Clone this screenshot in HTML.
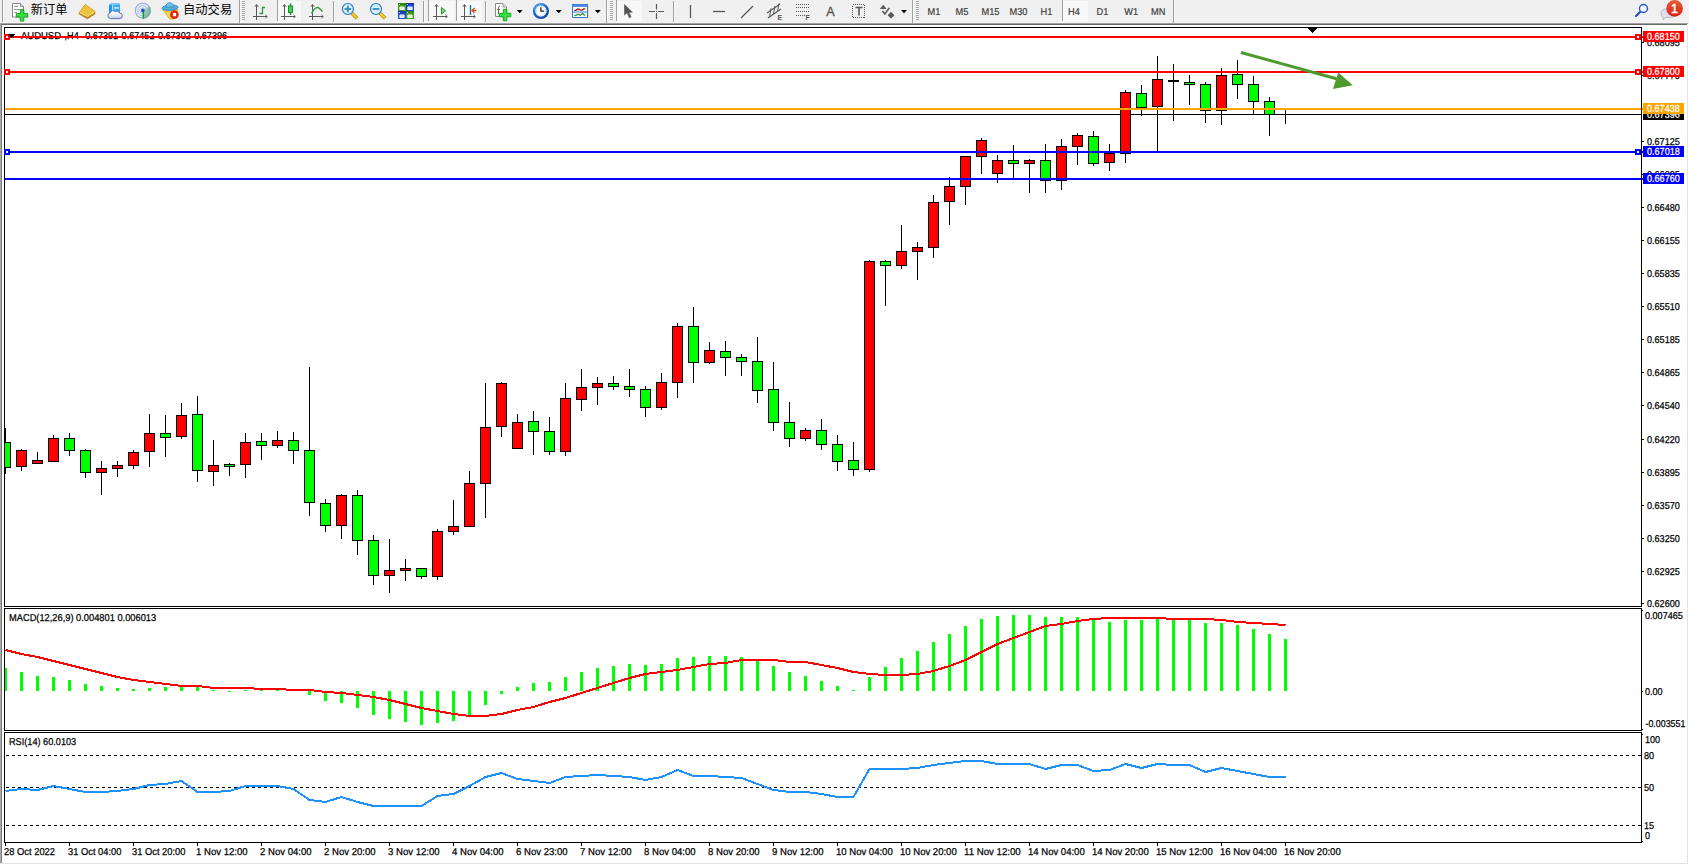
<!DOCTYPE html>
<html><head><meta charset="utf-8"><title>AUDUSD H4</title>
<style>
html,body{margin:0;padding:0;background:#fff}
body{width:1689px;height:865px;overflow:hidden;position:relative}
svg{position:absolute;left:0;top:0;display:block}
svg text{font-family:"Liberation Sans","Noto Sans CJK SC",sans-serif;white-space:pre}
</style></head><body>
<svg width="1689" height="865" viewBox="0 0 1689 865">
<rect x="0" y="0" width="1689" height="23" fill="#f0f0f0"/>
<rect x="0" y="22" width="1689" height="1" fill="#f5f5f5"/>
<rect x="0" y="23" width="1688" height="1" fill="#a0a0a0"/>
<rect x="0" y="24" width="1687" height="1" fill="#696969"/>
<rect x="0" y="23" width="1" height="840" fill="#ababab"/>
<rect x="1" y="24" width="1" height="839" fill="#787878"/>
<rect x="1687" y="25" width="1" height="839" fill="#e3e3e3"/>
<rect x="0" y="863" width="1688" height="1" fill="#e3e3e3"/>
<rect x="0" y="864" width="1689" height="1" fill="#ffffff"/>
<rect x="4" y="27" width="1638" height="1" fill="#000"/>
<rect x="4" y="27" width="1" height="580" fill="#000"/>
<rect x="4" y="606" width="1638" height="1" fill="#000"/>
<rect x="1641" y="27" width="1" height="580" fill="#000"/>
<rect x="4" y="608" width="1638" height="1" fill="#000"/>
<rect x="4" y="608" width="1" height="123" fill="#000"/>
<rect x="4" y="730" width="1638" height="1" fill="#000"/>
<rect x="1641" y="608" width="1" height="123" fill="#000"/>
<rect x="4" y="732" width="1638" height="1" fill="#000"/>
<rect x="4" y="732" width="1" height="111" fill="#000"/>
<rect x="4" y="842" width="1638" height="1" fill="#000"/>
<rect x="1641" y="732" width="1" height="111" fill="#000"/>
<path d="M1308 28h9v1h-1v1h-1v1h-1v1h-1v1h-1v-1h-1v-1h-1v-1h-1v-1h-1z" fill="#000"/>
<rect x="1642" y="42" width="2" height="1" fill="#000"/>
<text transform="translate(1647 46) rotate(0.05) scale(0.909 1)" fill="#000" stroke="#000" stroke-width="0.25" font-size="10">0.68095</text>
<rect x="1642" y="75" width="2" height="1" fill="#000"/>
<text transform="translate(1647 79) rotate(0.05) scale(0.909 1)" fill="#000" stroke="#000" stroke-width="0.25" font-size="10">0.67770</text>
<rect x="1642" y="141" width="2" height="1" fill="#000"/>
<text transform="translate(1647 145) rotate(0.05) scale(0.909 1)" fill="#000" stroke="#000" stroke-width="0.25" font-size="10">0.67125</text>
<rect x="1642" y="174" width="2" height="1" fill="#000"/>
<text transform="translate(1647 178) rotate(0.05) scale(0.909 1)" fill="#000" stroke="#000" stroke-width="0.25" font-size="10">0.66805</text>
<rect x="1642" y="207" width="2" height="1" fill="#000"/>
<text transform="translate(1647 211) rotate(0.05) scale(0.909 1)" fill="#000" stroke="#000" stroke-width="0.25" font-size="10">0.66480</text>
<rect x="1642" y="240" width="2" height="1" fill="#000"/>
<text transform="translate(1647 244) rotate(0.05) scale(0.909 1)" fill="#000" stroke="#000" stroke-width="0.25" font-size="10">0.66155</text>
<rect x="1642" y="273" width="2" height="1" fill="#000"/>
<text transform="translate(1647 277) rotate(0.05) scale(0.909 1)" fill="#000" stroke="#000" stroke-width="0.25" font-size="10">0.65835</text>
<rect x="1642" y="306" width="2" height="1" fill="#000"/>
<text transform="translate(1647 310) rotate(0.05) scale(0.909 1)" fill="#000" stroke="#000" stroke-width="0.25" font-size="10">0.65510</text>
<rect x="1642" y="339" width="2" height="1" fill="#000"/>
<text transform="translate(1647 343) rotate(0.05) scale(0.909 1)" fill="#000" stroke="#000" stroke-width="0.25" font-size="10">0.65185</text>
<rect x="1642" y="372" width="2" height="1" fill="#000"/>
<text transform="translate(1647 376) rotate(0.05) scale(0.909 1)" fill="#000" stroke="#000" stroke-width="0.25" font-size="10">0.64865</text>
<rect x="1642" y="405" width="2" height="1" fill="#000"/>
<text transform="translate(1647 409) rotate(0.05) scale(0.909 1)" fill="#000" stroke="#000" stroke-width="0.25" font-size="10">0.64540</text>
<rect x="1642" y="439" width="2" height="1" fill="#000"/>
<text transform="translate(1647 443) rotate(0.05) scale(0.909 1)" fill="#000" stroke="#000" stroke-width="0.25" font-size="10">0.64220</text>
<rect x="1642" y="472" width="2" height="1" fill="#000"/>
<text transform="translate(1647 476) rotate(0.05) scale(0.909 1)" fill="#000" stroke="#000" stroke-width="0.25" font-size="10">0.63895</text>
<rect x="1642" y="505" width="2" height="1" fill="#000"/>
<text transform="translate(1647 509) rotate(0.05) scale(0.909 1)" fill="#000" stroke="#000" stroke-width="0.25" font-size="10">0.63570</text>
<rect x="1642" y="538" width="2" height="1" fill="#000"/>
<text transform="translate(1647 542) rotate(0.05) scale(0.909 1)" fill="#000" stroke="#000" stroke-width="0.25" font-size="10">0.63250</text>
<rect x="1642" y="571" width="2" height="1" fill="#000"/>
<text transform="translate(1647 575) rotate(0.05) scale(0.909 1)" fill="#000" stroke="#000" stroke-width="0.25" font-size="10">0.62925</text>
<rect x="1642" y="603" width="2" height="1" fill="#000"/>
<text transform="translate(1647 607) rotate(0.05) scale(0.909 1)" fill="#000" stroke="#000" stroke-width="0.25" font-size="10">0.62600</text>
<rect x="5" y="114" width="1636" height="1" fill="#000"/>
<g shape-rendering="crispEdges">
<rect x="5" y="428" width="1" height="46" fill="#000"/>
<rect x="5" y="442" width="6" height="26" fill="#000"/>
<rect x="5" y="443" width="5" height="24" fill="#00ff00"/>
<rect x="21" y="449" width="1" height="22" fill="#000"/>
<rect x="16" y="450" width="11" height="17" fill="#000"/>
<rect x="17" y="451" width="9" height="15" fill="#ff0000"/>
<rect x="37" y="452" width="1" height="12" fill="#000"/>
<rect x="32" y="460" width="11" height="4" fill="#000"/>
<rect x="33" y="461" width="9" height="2" fill="#ff0000"/>
<rect x="53" y="435" width="1" height="27" fill="#000"/>
<rect x="48" y="438" width="11" height="24" fill="#000"/>
<rect x="49" y="439" width="9" height="22" fill="#ff0000"/>
<rect x="69" y="433" width="1" height="23" fill="#000"/>
<rect x="64" y="438" width="11" height="13" fill="#000"/>
<rect x="65" y="439" width="9" height="11" fill="#00ff00"/>
<rect x="85" y="449" width="1" height="29" fill="#000"/>
<rect x="80" y="450" width="11" height="23" fill="#000"/>
<rect x="81" y="451" width="9" height="21" fill="#00ff00"/>
<rect x="101" y="461" width="1" height="34" fill="#000"/>
<rect x="96" y="468" width="11" height="5" fill="#000"/>
<rect x="97" y="469" width="9" height="3" fill="#ff0000"/>
<rect x="117" y="461" width="1" height="16" fill="#000"/>
<rect x="112" y="465" width="11" height="4" fill="#000"/>
<rect x="113" y="466" width="9" height="2" fill="#ff0000"/>
<rect x="133" y="450" width="1" height="19" fill="#000"/>
<rect x="128" y="452" width="11" height="14" fill="#000"/>
<rect x="129" y="453" width="9" height="12" fill="#ff0000"/>
<rect x="149" y="414" width="1" height="53" fill="#000"/>
<rect x="144" y="433" width="11" height="19" fill="#000"/>
<rect x="145" y="434" width="9" height="17" fill="#ff0000"/>
<rect x="165" y="415" width="1" height="42" fill="#000"/>
<rect x="160" y="433" width="11" height="5" fill="#000"/>
<rect x="161" y="434" width="9" height="3" fill="#00ff00"/>
<rect x="181" y="403" width="1" height="36" fill="#000"/>
<rect x="176" y="415" width="11" height="22" fill="#000"/>
<rect x="177" y="416" width="9" height="20" fill="#ff0000"/>
<rect x="197" y="396" width="1" height="86" fill="#000"/>
<rect x="192" y="414" width="11" height="57" fill="#000"/>
<rect x="193" y="415" width="9" height="55" fill="#00ff00"/>
<rect x="213" y="440" width="1" height="46" fill="#000"/>
<rect x="208" y="465" width="11" height="7" fill="#000"/>
<rect x="209" y="466" width="9" height="5" fill="#ff0000"/>
<rect x="229" y="463" width="1" height="13" fill="#000"/>
<rect x="224" y="464" width="11" height="3" fill="#000"/>
<rect x="225" y="465" width="9" height="1" fill="#00ff00"/>
<rect x="245" y="433" width="1" height="45" fill="#000"/>
<rect x="240" y="442" width="11" height="23" fill="#000"/>
<rect x="241" y="443" width="9" height="21" fill="#ff0000"/>
<rect x="261" y="433" width="1" height="27" fill="#000"/>
<rect x="256" y="441" width="11" height="5" fill="#000"/>
<rect x="257" y="442" width="9" height="3" fill="#00ff00"/>
<rect x="277" y="431" width="1" height="17" fill="#000"/>
<rect x="272" y="440" width="11" height="6" fill="#000"/>
<rect x="273" y="441" width="9" height="4" fill="#ff0000"/>
<rect x="293" y="432" width="1" height="32" fill="#000"/>
<rect x="288" y="440" width="11" height="11" fill="#000"/>
<rect x="289" y="441" width="9" height="9" fill="#00ff00"/>
<rect x="309" y="367" width="1" height="149" fill="#000"/>
<rect x="304" y="450" width="11" height="53" fill="#000"/>
<rect x="305" y="451" width="9" height="51" fill="#00ff00"/>
<rect x="325" y="499" width="1" height="33" fill="#000"/>
<rect x="320" y="503" width="11" height="23" fill="#000"/>
<rect x="321" y="504" width="9" height="21" fill="#00ff00"/>
<rect x="341" y="494" width="1" height="45" fill="#000"/>
<rect x="336" y="495" width="11" height="31" fill="#000"/>
<rect x="337" y="496" width="9" height="29" fill="#ff0000"/>
<rect x="357" y="490" width="1" height="65" fill="#000"/>
<rect x="352" y="495" width="11" height="46" fill="#000"/>
<rect x="353" y="496" width="9" height="44" fill="#00ff00"/>
<rect x="373" y="535" width="1" height="50" fill="#000"/>
<rect x="368" y="540" width="11" height="36" fill="#000"/>
<rect x="369" y="541" width="9" height="34" fill="#00ff00"/>
<rect x="389" y="539" width="1" height="54" fill="#000"/>
<rect x="384" y="570" width="11" height="6" fill="#000"/>
<rect x="385" y="571" width="9" height="4" fill="#ff0000"/>
<rect x="405" y="559" width="1" height="22" fill="#000"/>
<rect x="400" y="568" width="11" height="3" fill="#000"/>
<rect x="401" y="569" width="9" height="1" fill="#ff0000"/>
<rect x="421" y="568" width="1" height="11" fill="#000"/>
<rect x="416" y="568" width="11" height="9" fill="#000"/>
<rect x="417" y="569" width="9" height="7" fill="#00ff00"/>
<rect x="437" y="529" width="1" height="51" fill="#000"/>
<rect x="432" y="531" width="11" height="46" fill="#000"/>
<rect x="433" y="532" width="9" height="44" fill="#ff0000"/>
<rect x="453" y="500" width="1" height="35" fill="#000"/>
<rect x="448" y="526" width="11" height="6" fill="#000"/>
<rect x="449" y="527" width="9" height="4" fill="#ff0000"/>
<rect x="469" y="471" width="1" height="56" fill="#000"/>
<rect x="464" y="483" width="11" height="44" fill="#000"/>
<rect x="465" y="484" width="9" height="42" fill="#ff0000"/>
<rect x="485" y="383" width="1" height="135" fill="#000"/>
<rect x="480" y="427" width="11" height="57" fill="#000"/>
<rect x="481" y="428" width="9" height="55" fill="#ff0000"/>
<rect x="501" y="382" width="1" height="55" fill="#000"/>
<rect x="496" y="383" width="11" height="44" fill="#000"/>
<rect x="497" y="384" width="9" height="42" fill="#ff0000"/>
<rect x="517" y="414" width="1" height="35" fill="#000"/>
<rect x="512" y="422" width="11" height="27" fill="#000"/>
<rect x="513" y="423" width="9" height="25" fill="#ff0000"/>
<rect x="533" y="411" width="1" height="44" fill="#000"/>
<rect x="528" y="421" width="11" height="11" fill="#000"/>
<rect x="529" y="422" width="9" height="9" fill="#00ff00"/>
<rect x="549" y="417" width="1" height="38" fill="#000"/>
<rect x="544" y="431" width="11" height="21" fill="#000"/>
<rect x="545" y="432" width="9" height="19" fill="#00ff00"/>
<rect x="565" y="383" width="1" height="73" fill="#000"/>
<rect x="560" y="398" width="11" height="54" fill="#000"/>
<rect x="561" y="399" width="9" height="52" fill="#ff0000"/>
<rect x="581" y="369" width="1" height="42" fill="#000"/>
<rect x="576" y="387" width="11" height="13" fill="#000"/>
<rect x="577" y="388" width="9" height="11" fill="#ff0000"/>
<rect x="597" y="377" width="1" height="28" fill="#000"/>
<rect x="592" y="383" width="11" height="5" fill="#000"/>
<rect x="593" y="384" width="9" height="3" fill="#ff0000"/>
<rect x="613" y="376" width="1" height="14" fill="#000"/>
<rect x="608" y="383" width="11" height="4" fill="#000"/>
<rect x="609" y="384" width="9" height="2" fill="#00ff00"/>
<rect x="629" y="369" width="1" height="28" fill="#000"/>
<rect x="624" y="386" width="11" height="4" fill="#000"/>
<rect x="625" y="387" width="9" height="2" fill="#00ff00"/>
<rect x="645" y="386" width="1" height="31" fill="#000"/>
<rect x="640" y="389" width="11" height="19" fill="#000"/>
<rect x="641" y="390" width="9" height="17" fill="#00ff00"/>
<rect x="661" y="373" width="1" height="37" fill="#000"/>
<rect x="656" y="382" width="11" height="26" fill="#000"/>
<rect x="657" y="383" width="9" height="24" fill="#ff0000"/>
<rect x="677" y="323" width="1" height="75" fill="#000"/>
<rect x="672" y="326" width="11" height="57" fill="#000"/>
<rect x="673" y="327" width="9" height="55" fill="#ff0000"/>
<rect x="693" y="307" width="1" height="76" fill="#000"/>
<rect x="688" y="326" width="11" height="37" fill="#000"/>
<rect x="689" y="327" width="9" height="35" fill="#00ff00"/>
<rect x="709" y="342" width="1" height="22" fill="#000"/>
<rect x="704" y="350" width="11" height="13" fill="#000"/>
<rect x="705" y="351" width="9" height="11" fill="#ff0000"/>
<rect x="725" y="341" width="1" height="35" fill="#000"/>
<rect x="720" y="351" width="11" height="7" fill="#000"/>
<rect x="721" y="352" width="9" height="5" fill="#00ff00"/>
<rect x="741" y="354" width="1" height="22" fill="#000"/>
<rect x="736" y="357" width="11" height="5" fill="#000"/>
<rect x="737" y="358" width="9" height="3" fill="#00ff00"/>
<rect x="757" y="337" width="1" height="66" fill="#000"/>
<rect x="752" y="361" width="11" height="30" fill="#000"/>
<rect x="753" y="362" width="9" height="28" fill="#00ff00"/>
<rect x="773" y="362" width="1" height="69" fill="#000"/>
<rect x="768" y="389" width="11" height="34" fill="#000"/>
<rect x="769" y="390" width="9" height="32" fill="#00ff00"/>
<rect x="789" y="402" width="1" height="45" fill="#000"/>
<rect x="784" y="422" width="11" height="17" fill="#000"/>
<rect x="785" y="423" width="9" height="15" fill="#00ff00"/>
<rect x="805" y="428" width="1" height="13" fill="#000"/>
<rect x="800" y="430" width="11" height="9" fill="#000"/>
<rect x="801" y="431" width="9" height="7" fill="#ff0000"/>
<rect x="821" y="419" width="1" height="31" fill="#000"/>
<rect x="816" y="430" width="11" height="15" fill="#000"/>
<rect x="817" y="431" width="9" height="13" fill="#00ff00"/>
<rect x="837" y="435" width="1" height="36" fill="#000"/>
<rect x="832" y="444" width="11" height="18" fill="#000"/>
<rect x="833" y="445" width="9" height="16" fill="#00ff00"/>
<rect x="853" y="442" width="1" height="34" fill="#000"/>
<rect x="848" y="460" width="11" height="10" fill="#000"/>
<rect x="849" y="461" width="9" height="8" fill="#00ff00"/>
<rect x="869" y="260" width="1" height="212" fill="#000"/>
<rect x="864" y="261" width="11" height="209" fill="#000"/>
<rect x="865" y="262" width="9" height="207" fill="#ff0000"/>
<rect x="885" y="260" width="1" height="46" fill="#000"/>
<rect x="880" y="261" width="11" height="5" fill="#000"/>
<rect x="881" y="262" width="9" height="3" fill="#00ff00"/>
<rect x="901" y="225" width="1" height="44" fill="#000"/>
<rect x="896" y="251" width="11" height="15" fill="#000"/>
<rect x="897" y="252" width="9" height="13" fill="#ff0000"/>
<rect x="917" y="242" width="1" height="38" fill="#000"/>
<rect x="912" y="247" width="11" height="5" fill="#000"/>
<rect x="913" y="248" width="9" height="3" fill="#ff0000"/>
<rect x="933" y="195" width="1" height="63" fill="#000"/>
<rect x="928" y="202" width="11" height="46" fill="#000"/>
<rect x="929" y="203" width="9" height="44" fill="#ff0000"/>
<rect x="949" y="177" width="1" height="48" fill="#000"/>
<rect x="944" y="186" width="11" height="16" fill="#000"/>
<rect x="945" y="187" width="9" height="14" fill="#ff0000"/>
<rect x="965" y="156" width="1" height="49" fill="#000"/>
<rect x="960" y="156" width="11" height="31" fill="#000"/>
<rect x="961" y="157" width="9" height="29" fill="#ff0000"/>
<rect x="981" y="138" width="1" height="36" fill="#000"/>
<rect x="976" y="140" width="11" height="17" fill="#000"/>
<rect x="977" y="141" width="9" height="15" fill="#ff0000"/>
<rect x="997" y="155" width="1" height="28" fill="#000"/>
<rect x="992" y="160" width="11" height="14" fill="#000"/>
<rect x="993" y="161" width="9" height="12" fill="#ff0000"/>
<rect x="1013" y="145" width="1" height="33" fill="#000"/>
<rect x="1008" y="160" width="11" height="4" fill="#000"/>
<rect x="1009" y="161" width="9" height="2" fill="#00ff00"/>
<rect x="1029" y="159" width="1" height="34" fill="#000"/>
<rect x="1024" y="160" width="11" height="4" fill="#000"/>
<rect x="1025" y="161" width="9" height="2" fill="#ff0000"/>
<rect x="1045" y="144" width="1" height="49" fill="#000"/>
<rect x="1040" y="160" width="11" height="21" fill="#000"/>
<rect x="1041" y="161" width="9" height="19" fill="#00ff00"/>
<rect x="1061" y="139" width="1" height="51" fill="#000"/>
<rect x="1056" y="146" width="11" height="35" fill="#000"/>
<rect x="1057" y="147" width="9" height="33" fill="#ff0000"/>
<rect x="1077" y="133" width="1" height="32" fill="#000"/>
<rect x="1072" y="135" width="11" height="12" fill="#000"/>
<rect x="1073" y="136" width="9" height="10" fill="#ff0000"/>
<rect x="1093" y="131" width="1" height="35" fill="#000"/>
<rect x="1088" y="136" width="11" height="28" fill="#000"/>
<rect x="1089" y="137" width="9" height="26" fill="#00ff00"/>
<rect x="1109" y="144" width="1" height="27" fill="#000"/>
<rect x="1104" y="153" width="11" height="10" fill="#000"/>
<rect x="1105" y="154" width="9" height="8" fill="#ff0000"/>
<rect x="1125" y="90" width="1" height="73" fill="#000"/>
<rect x="1120" y="92" width="11" height="62" fill="#000"/>
<rect x="1121" y="93" width="9" height="60" fill="#ff0000"/>
<rect x="1141" y="85" width="1" height="31" fill="#000"/>
<rect x="1136" y="93" width="11" height="15" fill="#000"/>
<rect x="1137" y="94" width="9" height="13" fill="#00ff00"/>
<rect x="1157" y="56" width="1" height="95" fill="#000"/>
<rect x="1152" y="79" width="11" height="28" fill="#000"/>
<rect x="1153" y="80" width="9" height="26" fill="#ff0000"/>
<rect x="1173" y="64" width="1" height="57" fill="#000"/>
<rect x="1168" y="80" width="11" height="2" fill="#000"/>
<rect x="1189" y="75" width="1" height="30" fill="#000"/>
<rect x="1184" y="82" width="11" height="3" fill="#000"/>
<rect x="1185" y="83" width="9" height="1" fill="#00ff00"/>
<rect x="1205" y="82" width="1" height="41" fill="#000"/>
<rect x="1200" y="84" width="11" height="27" fill="#000"/>
<rect x="1201" y="85" width="9" height="25" fill="#00ff00"/>
<rect x="1221" y="68" width="1" height="57" fill="#000"/>
<rect x="1216" y="75" width="11" height="36" fill="#000"/>
<rect x="1217" y="76" width="9" height="34" fill="#ff0000"/>
<rect x="1237" y="60" width="1" height="39" fill="#000"/>
<rect x="1232" y="74" width="11" height="11" fill="#000"/>
<rect x="1233" y="75" width="9" height="9" fill="#00ff00"/>
<rect x="1253" y="76" width="1" height="38" fill="#000"/>
<rect x="1248" y="84" width="11" height="18" fill="#000"/>
<rect x="1249" y="85" width="9" height="16" fill="#00ff00"/>
<rect x="1269" y="97" width="1" height="39" fill="#000"/>
<rect x="1264" y="101" width="11" height="14" fill="#000"/>
<rect x="1265" y="102" width="9" height="12" fill="#00ff00"/>
<rect x="1285" y="110" width="1" height="14" fill="#000"/>
<rect x="1280" y="114" width="11" height="1" fill="#000"/>
</g>
<rect x="1643" y="109" width="41" height="11" fill="#000"/>
<text transform="translate(1647 117.7) rotate(0.05) scale(0.909 1)" fill="#fff" stroke="#fff" stroke-width="0.25" font-size="10">0.67396</text>
<rect x="5" y="36" width="1638" height="2" fill="#ff0000"/>
<rect x="4" y="34" width="6" height="6" fill="#ff0000"/>
<rect x="6" y="36" width="2" height="2" fill="#fff"/>
<rect x="1635" y="34" width="6" height="6" fill="#ff0000"/>
<rect x="1637" y="36" width="2" height="2" fill="#fff"/>
<rect x="1641" y="34" width="1" height="6" fill="#000"/>
<rect x="1641" y="36" width="1" height="2" fill="#000"/>
<rect x="1643" y="31" width="41" height="11" fill="#ff0000"/>
<text transform="translate(1647 39.7) rotate(0.05) scale(0.909 1)" fill="#fff" stroke="#fff" stroke-width="0.25" font-size="10">0.68150</text>
<rect x="5" y="71" width="1638" height="2" fill="#ff0000"/>
<rect x="4" y="69" width="6" height="6" fill="#ff0000"/>
<rect x="6" y="71" width="2" height="2" fill="#fff"/>
<rect x="1635" y="69" width="6" height="6" fill="#ff0000"/>
<rect x="1637" y="71" width="2" height="2" fill="#fff"/>
<rect x="1641" y="69" width="1" height="6" fill="#000"/>
<rect x="1641" y="71" width="1" height="2" fill="#000"/>
<rect x="1643" y="66" width="41" height="11" fill="#ff0000"/>
<text transform="translate(1647 74.7) rotate(0.05) scale(0.909 1)" fill="#fff" stroke="#fff" stroke-width="0.25" font-size="10">0.67800</text>
<rect x="5" y="108" width="1638" height="2" fill="#ffa500"/>
<rect x="1641" y="108" width="1" height="2" fill="#000"/>
<rect x="1643" y="103" width="41" height="11" fill="#ffa500"/>
<text transform="translate(1647 111.7) rotate(0.05) scale(0.909 1)" fill="#fff" stroke="#fff" stroke-width="0.25" font-size="10">0.67438</text>
<rect x="5" y="151" width="1638" height="2" fill="#0000ff"/>
<rect x="4" y="149" width="6" height="6" fill="#0000ff"/>
<rect x="6" y="151" width="2" height="2" fill="#fff"/>
<rect x="1635" y="149" width="6" height="6" fill="#0000ff"/>
<rect x="1637" y="151" width="2" height="2" fill="#fff"/>
<rect x="1641" y="149" width="1" height="6" fill="#000"/>
<rect x="1641" y="151" width="1" height="2" fill="#000"/>
<rect x="1643" y="146" width="41" height="11" fill="#0000ff"/>
<text transform="translate(1647 154.7) rotate(0.05) scale(0.909 1)" fill="#fff" stroke="#fff" stroke-width="0.25" font-size="10">0.67018</text>
<rect x="5" y="178" width="1638" height="2" fill="#0000ff"/>
<rect x="1641" y="178" width="1" height="2" fill="#000"/>
<rect x="1643" y="173" width="41" height="11" fill="#0000ff"/>
<text transform="translate(1647 181.7) rotate(0.05) scale(0.909 1)" fill="#fff" stroke="#fff" stroke-width="0.25" font-size="10">0.66760</text>
<text transform="translate(21 39) rotate(0.05)" fill="#000" stroke="#000" stroke-width="0.25" font-size="10" textLength="40" lengthAdjust="spacingAndGlyphs" id="sym">AUDUSD</text>
<text transform="translate(64.5 39) rotate(0.05)" fill="#000" stroke="#000" stroke-width="0.25" font-size="10" textLength="14.3" lengthAdjust="spacingAndGlyphs">,H4</text>
<text transform="translate(85.3 39) rotate(0.05) scale(0.909 1)" fill="#000" stroke="#000" stroke-width="0.25" font-size="10">0.67391</text>
<text transform="translate(121.6 39) rotate(0.05) scale(0.909 1)" fill="#000" stroke="#000" stroke-width="0.25" font-size="10">0.67452</text>
<text transform="translate(157.89999999999998 39) rotate(0.05) scale(0.909 1)" fill="#000" stroke="#000" stroke-width="0.25" font-size="10">0.67302</text>
<text transform="translate(194.2 39) rotate(0.05) scale(0.909 1)" fill="#000" stroke="#000" stroke-width="0.25" font-size="10">0.67396</text>
<rect x="10" y="36" width="231" height="2" fill="#ff0000"/>
<rect x="4" y="34" width="6" height="6" fill="#ff0000"/>
<rect x="6" y="36" width="2" height="2" fill="#fff"/>
<path d="M8 34h7v1h-1v1h-1v1h-1v1h-1v-1h-1v-1h-1v-1h-1z" fill="#000" shape-rendering="crispEdges"/>
<g fill="#4e9a2e" stroke="none">
<path d="M1240.5 53.95 L1241.3 51.05 L1336.9 77.35 L1336.1 80.25 Z"/>
<path d="M1338.2 72.4 L1352.8 85.2 L1333.0 89.0 Z"/>
</g>
<g shape-rendering="crispEdges">
<rect x="5" y="668" width="2" height="23" fill="#00ff00"/>
<rect x="20" y="672" width="3" height="19" fill="#00ff00"/>
<rect x="36" y="676" width="3" height="15" fill="#00ff00"/>
<rect x="52" y="677" width="3" height="14" fill="#00ff00"/>
<rect x="68" y="680" width="3" height="11" fill="#00ff00"/>
<rect x="84" y="684" width="3" height="7" fill="#00ff00"/>
<rect x="100" y="686" width="3" height="5" fill="#00ff00"/>
<rect x="116" y="688" width="3" height="3" fill="#00ff00"/>
<rect x="132" y="689" width="3" height="2" fill="#00ff00"/>
<rect x="148" y="688" width="3" height="3" fill="#00ff00"/>
<rect x="164" y="687" width="3" height="4" fill="#00ff00"/>
<rect x="180" y="686" width="3" height="5" fill="#00ff00"/>
<rect x="196" y="687" width="3" height="4" fill="#00ff00"/>
<rect x="212" y="690" width="3" height="1" fill="#00ff00"/>
<rect x="244" y="690" width="3" height="1" fill="#00ff00"/>
<rect x="260" y="689" width="3" height="2" fill="#00ff00"/>
<rect x="276" y="689" width="3" height="2" fill="#00ff00"/>
<rect x="292" y="690" width="3" height="1" fill="#00ff00"/>
<rect x="516" y="687" width="3" height="4" fill="#00ff00"/>
<rect x="532" y="683" width="3" height="8" fill="#00ff00"/>
<rect x="548" y="682" width="3" height="9" fill="#00ff00"/>
<rect x="564" y="677" width="3" height="14" fill="#00ff00"/>
<rect x="580" y="672" width="3" height="19" fill="#00ff00"/>
<rect x="596" y="668" width="3" height="23" fill="#00ff00"/>
<rect x="612" y="666" width="3" height="25" fill="#00ff00"/>
<rect x="628" y="664" width="3" height="27" fill="#00ff00"/>
<rect x="644" y="665" width="3" height="26" fill="#00ff00"/>
<rect x="660" y="664" width="3" height="27" fill="#00ff00"/>
<rect x="676" y="658" width="3" height="33" fill="#00ff00"/>
<rect x="692" y="657" width="3" height="34" fill="#00ff00"/>
<rect x="708" y="656" width="3" height="35" fill="#00ff00"/>
<rect x="724" y="656" width="3" height="35" fill="#00ff00"/>
<rect x="740" y="657" width="3" height="34" fill="#00ff00"/>
<rect x="756" y="661" width="3" height="30" fill="#00ff00"/>
<rect x="772" y="666" width="3" height="25" fill="#00ff00"/>
<rect x="788" y="672" width="3" height="19" fill="#00ff00"/>
<rect x="804" y="676" width="3" height="15" fill="#00ff00"/>
<rect x="820" y="681" width="3" height="10" fill="#00ff00"/>
<rect x="836" y="686" width="3" height="5" fill="#00ff00"/>
<rect x="852" y="690" width="3" height="1" fill="#00ff00"/>
<rect x="868" y="677" width="3" height="14" fill="#00ff00"/>
<rect x="884" y="667" width="3" height="24" fill="#00ff00"/>
<rect x="900" y="658" width="3" height="33" fill="#00ff00"/>
<rect x="916" y="651" width="3" height="40" fill="#00ff00"/>
<rect x="932" y="642" width="3" height="49" fill="#00ff00"/>
<rect x="948" y="634" width="3" height="57" fill="#00ff00"/>
<rect x="964" y="626" width="3" height="65" fill="#00ff00"/>
<rect x="980" y="619" width="3" height="72" fill="#00ff00"/>
<rect x="996" y="616" width="3" height="75" fill="#00ff00"/>
<rect x="1012" y="615" width="3" height="76" fill="#00ff00"/>
<rect x="1028" y="615" width="3" height="76" fill="#00ff00"/>
<rect x="1044" y="617" width="3" height="74" fill="#00ff00"/>
<rect x="1060" y="617" width="3" height="74" fill="#00ff00"/>
<rect x="1076" y="617" width="3" height="74" fill="#00ff00"/>
<rect x="1092" y="620" width="3" height="71" fill="#00ff00"/>
<rect x="1108" y="622" width="3" height="69" fill="#00ff00"/>
<rect x="1124" y="620" width="3" height="71" fill="#00ff00"/>
<rect x="1140" y="620" width="3" height="71" fill="#00ff00"/>
<rect x="1156" y="619" width="3" height="72" fill="#00ff00"/>
<rect x="1172" y="620" width="3" height="71" fill="#00ff00"/>
<rect x="1188" y="620" width="3" height="71" fill="#00ff00"/>
<rect x="1204" y="623" width="3" height="68" fill="#00ff00"/>
<rect x="1220" y="623" width="3" height="68" fill="#00ff00"/>
<rect x="1236" y="625" width="3" height="66" fill="#00ff00"/>
<rect x="1252" y="629" width="3" height="62" fill="#00ff00"/>
<rect x="1268" y="634" width="3" height="57" fill="#00ff00"/>
<rect x="1284" y="639" width="3" height="52" fill="#00ff00"/>
<rect x="228" y="691" width="3" height="1" fill="#00ff00"/>
<rect x="308" y="691" width="3" height="4" fill="#00ff00"/>
<rect x="324" y="691" width="3" height="10" fill="#00ff00"/>
<rect x="340" y="691" width="3" height="12" fill="#00ff00"/>
<rect x="356" y="691" width="3" height="17" fill="#00ff00"/>
<rect x="372" y="691" width="3" height="24" fill="#00ff00"/>
<rect x="388" y="691" width="3" height="28" fill="#00ff00"/>
<rect x="404" y="691" width="3" height="31" fill="#00ff00"/>
<rect x="420" y="691" width="3" height="34" fill="#00ff00"/>
<rect x="436" y="691" width="3" height="32" fill="#00ff00"/>
<rect x="452" y="691" width="3" height="30" fill="#00ff00"/>
<rect x="468" y="691" width="3" height="24" fill="#00ff00"/>
<rect x="484" y="691" width="3" height="14" fill="#00ff00"/>
<rect x="500" y="691" width="3" height="3" fill="#00ff00"/>
</g>
<polyline points="5.5,650 21.5,654 37.5,657 53.5,661 69.5,665 85.5,669 101.5,673 117.5,677 133.5,680 149.5,682 165.5,684 181.5,686 197.5,686 213.5,688 229.5,688 245.5,688 261.5,689 277.5,689 293.5,690 309.5,690 325.5,692 341.5,693 357.5,695 373.5,697 389.5,700 405.5,704 421.5,708 437.5,711 453.5,714 469.5,716 485.5,716 501.5,714 517.5,710 533.5,707 549.5,702 565.5,698 581.5,693 597.5,688 613.5,683 629.5,678 645.5,674 661.5,672 677.5,670 693.5,667 709.5,664 725.5,663 741.5,660 757.5,660 773.5,660 789.5,662 805.5,662 821.5,665 837.5,668 853.5,672 869.5,674 885.5,675 901.5,675 917.5,674 933.5,671 949.5,666 965.5,660 981.5,652 997.5,644 1013.5,638 1029.5,632 1045.5,626 1061.5,624 1077.5,621 1093.5,619 1109.5,618 1125.5,618 1141.5,618 1157.5,618 1173.5,619 1189.5,619 1205.5,619 1221.5,620 1237.5,622 1253.5,623 1269.5,624 1285.5,625" fill="none" stroke="#ff0000" stroke-width="2" stroke-linejoin="round" shape-rendering="crispEdges"/>
<text transform="translate(9 621) rotate(0.05)" fill="#000" stroke="#000" stroke-width="0.25" font-size="10" textLength="147.2" lengthAdjust="spacingAndGlyphs" id="macdt">MACD(12,26,9) 0.004801 0.006013</text>
<rect x="1642" y="610" width="1" height="1" fill="#000"/>
<text transform="translate(1645 619) rotate(0.05) scale(0.909 1)" fill="#000" stroke="#000" stroke-width="0.25" font-size="10">0.007465</text>
<rect x="1642" y="691" width="1" height="1" fill="#000"/>
<text transform="translate(1645 695) rotate(0.05) scale(0.909 1)" fill="#000" stroke="#000" stroke-width="0.25" font-size="10">0.00</text>
<rect x="1642" y="729" width="1" height="1" fill="#000"/>
<text transform="translate(1645.5 727) rotate(0.05) scale(0.887 1)" fill="#000" stroke="#000" stroke-width="0.25" font-size="10">-0.003551</text>
<path d="M6 755.5H1641" stroke="#000" stroke-width="1" stroke-dasharray="3 3" shape-rendering="crispEdges"/>
<path d="M6 787.5H1641" stroke="#000" stroke-width="1" stroke-dasharray="3 3" shape-rendering="crispEdges"/>
<path d="M6 825.5H1641" stroke="#000" stroke-width="1" stroke-dasharray="3 3" shape-rendering="crispEdges"/>
<polyline points="5.5,791 21.5,789 37.5,790 53.5,786 69.5,789 85.5,792 101.5,792 117.5,791 133.5,789 149.5,785 165.5,784 181.5,781 197.5,792 213.5,792 229.5,791 245.5,786 261.5,786 277.5,786 293.5,789 309.5,800 325.5,802 341.5,797 357.5,802 373.5,806 389.5,806 405.5,806 421.5,806 437.5,796 453.5,794 469.5,786 485.5,777 501.5,773 517.5,779 533.5,781 549.5,783 565.5,777 581.5,776 597.5,775 613.5,776 629.5,777 645.5,780 661.5,777 677.5,770 693.5,776 709.5,776 725.5,777 741.5,778 757.5,784 773.5,790 789.5,792 805.5,792 821.5,794 837.5,797 853.5,797 869.5,769 885.5,769 901.5,769 917.5,768 933.5,765 949.5,763 965.5,761 981.5,761 997.5,764 1013.5,764 1029.5,764 1045.5,769 1061.5,765 1077.5,765 1093.5,771 1109.5,770 1125.5,764 1141.5,768 1157.5,764 1173.5,765 1189.5,765 1205.5,772 1221.5,768 1237.5,771 1253.5,774 1269.5,777 1285.5,777" fill="none" stroke="#1e90ff" stroke-width="2" stroke-linejoin="round" shape-rendering="crispEdges"/>
<text transform="translate(9 745) rotate(0.05)" fill="#000" stroke="#000" stroke-width="0.25" font-size="10" textLength="67.2" lengthAdjust="spacingAndGlyphs" id="rsit">RSI(14) 60.0103</text>
<rect x="1642" y="734" width="1" height="1" fill="#000"/>
<text transform="translate(1645 743) rotate(0.05) scale(0.909 1)" fill="#000" stroke="#000" stroke-width="0.25" font-size="10">100</text>
<text transform="translate(1644 759) rotate(0.05) scale(0.909 1)" fill="#000" stroke="#000" stroke-width="0.25" font-size="10">80</text>
<text transform="translate(1644 791) rotate(0.05) scale(0.909 1)" fill="#000" stroke="#000" stroke-width="0.25" font-size="10">50</text>
<text transform="translate(1644 829) rotate(0.05) scale(0.909 1)" fill="#000" stroke="#000" stroke-width="0.25" font-size="10">15</text>
<text transform="translate(1645 839) rotate(0.05) scale(0.909 1)" fill="#000" stroke="#000" stroke-width="0.25" font-size="10">0</text>
<rect x="1642" y="841" width="1" height="1" fill="#000"/>
<rect x="5" y="843" width="1" height="3" fill="#000"/>
<text transform="translate(4 855) rotate(0.05)" fill="#000" stroke="#000" stroke-width="0.25" font-size="10" textLength="51" lengthAdjust="spacingAndGlyphs">28 Oct 2022</text>
<rect x="69" y="843" width="1" height="3" fill="#000"/>
<text transform="translate(68 855) rotate(0.05)" fill="#000" stroke="#000" stroke-width="0.25" font-size="10" textLength="53.4" lengthAdjust="spacingAndGlyphs">31 Oct 04:00</text>
<rect x="133" y="843" width="1" height="3" fill="#000"/>
<text transform="translate(132 855) rotate(0.05)" fill="#000" stroke="#000" stroke-width="0.25" font-size="10" textLength="53.4" lengthAdjust="spacingAndGlyphs">31 Oct 20:00</text>
<rect x="197" y="843" width="1" height="3" fill="#000"/>
<text transform="translate(196 855) rotate(0.05)" fill="#000" stroke="#000" stroke-width="0.25" font-size="10" textLength="51.6" lengthAdjust="spacingAndGlyphs">1 Nov 12:00</text>
<rect x="261" y="843" width="1" height="3" fill="#000"/>
<text transform="translate(260 855) rotate(0.05)" fill="#000" stroke="#000" stroke-width="0.25" font-size="10" textLength="51.6" lengthAdjust="spacingAndGlyphs">2 Nov 04:00</text>
<rect x="325" y="843" width="1" height="3" fill="#000"/>
<text transform="translate(324 855) rotate(0.05)" fill="#000" stroke="#000" stroke-width="0.25" font-size="10" textLength="51.6" lengthAdjust="spacingAndGlyphs">2 Nov 20:00</text>
<rect x="389" y="843" width="1" height="3" fill="#000"/>
<text transform="translate(388 855) rotate(0.05)" fill="#000" stroke="#000" stroke-width="0.25" font-size="10" textLength="51.6" lengthAdjust="spacingAndGlyphs">3 Nov 12:00</text>
<rect x="453" y="843" width="1" height="3" fill="#000"/>
<text transform="translate(452 855) rotate(0.05)" fill="#000" stroke="#000" stroke-width="0.25" font-size="10" textLength="51.6" lengthAdjust="spacingAndGlyphs">4 Nov 04:00</text>
<rect x="517" y="843" width="1" height="3" fill="#000"/>
<text transform="translate(516 855) rotate(0.05)" fill="#000" stroke="#000" stroke-width="0.25" font-size="10" textLength="51.6" lengthAdjust="spacingAndGlyphs">6 Nov 23:00</text>
<rect x="581" y="843" width="1" height="3" fill="#000"/>
<text transform="translate(580 855) rotate(0.05)" fill="#000" stroke="#000" stroke-width="0.25" font-size="10" textLength="51.6" lengthAdjust="spacingAndGlyphs">7 Nov 12:00</text>
<rect x="645" y="843" width="1" height="3" fill="#000"/>
<text transform="translate(644 855) rotate(0.05)" fill="#000" stroke="#000" stroke-width="0.25" font-size="10" textLength="51.6" lengthAdjust="spacingAndGlyphs">8 Nov 04:00</text>
<rect x="709" y="843" width="1" height="3" fill="#000"/>
<text transform="translate(708 855) rotate(0.05)" fill="#000" stroke="#000" stroke-width="0.25" font-size="10" textLength="51.6" lengthAdjust="spacingAndGlyphs">8 Nov 20:00</text>
<rect x="773" y="843" width="1" height="3" fill="#000"/>
<text transform="translate(772 855) rotate(0.05)" fill="#000" stroke="#000" stroke-width="0.25" font-size="10" textLength="51.6" lengthAdjust="spacingAndGlyphs">9 Nov 12:00</text>
<rect x="837" y="843" width="1" height="3" fill="#000"/>
<text transform="translate(836 855) rotate(0.05)" fill="#000" stroke="#000" stroke-width="0.25" font-size="10" textLength="56.7" lengthAdjust="spacingAndGlyphs">10 Nov 04:00</text>
<rect x="901" y="843" width="1" height="3" fill="#000"/>
<text transform="translate(900 855) rotate(0.05)" fill="#000" stroke="#000" stroke-width="0.25" font-size="10" textLength="56.7" lengthAdjust="spacingAndGlyphs">10 Nov 20:00</text>
<rect x="965" y="843" width="1" height="3" fill="#000"/>
<text transform="translate(964 855) rotate(0.05)" fill="#000" stroke="#000" stroke-width="0.25" font-size="10" textLength="56.7" lengthAdjust="spacingAndGlyphs">11 Nov 12:00</text>
<rect x="1029" y="843" width="1" height="3" fill="#000"/>
<text transform="translate(1028 855) rotate(0.05)" fill="#000" stroke="#000" stroke-width="0.25" font-size="10" textLength="56.7" lengthAdjust="spacingAndGlyphs">14 Nov 04:00</text>
<rect x="1093" y="843" width="1" height="3" fill="#000"/>
<text transform="translate(1092 855) rotate(0.05)" fill="#000" stroke="#000" stroke-width="0.25" font-size="10" textLength="56.7" lengthAdjust="spacingAndGlyphs">14 Nov 20:00</text>
<rect x="1157" y="843" width="1" height="3" fill="#000"/>
<text transform="translate(1156 855) rotate(0.05)" fill="#000" stroke="#000" stroke-width="0.25" font-size="10" textLength="56.7" lengthAdjust="spacingAndGlyphs">15 Nov 12:00</text>
<rect x="1221" y="843" width="1" height="3" fill="#000"/>
<text transform="translate(1220 855) rotate(0.05)" fill="#000" stroke="#000" stroke-width="0.25" font-size="10" textLength="56.7" lengthAdjust="spacingAndGlyphs">16 Nov 04:00</text>
<rect x="1285" y="843" width="1" height="3" fill="#000"/>
<text transform="translate(1284 855) rotate(0.05)" fill="#000" stroke="#000" stroke-width="0.25" font-size="10" textLength="56.7" lengthAdjust="spacingAndGlyphs">16 Nov 20:00</text>
<rect x="2" y="0" width="1" height="22" fill="#a0a0a0"/><rect x="3" y="0" width="1" height="22" fill="#fafafa"/>
<path d="M12.5 3.5h8l3 3v10.5h-11z" fill="#fff" stroke="#8a8a8a" stroke-width="1"/>
<path d="M20.5 3.5v3h3" fill="#e8e8e8" stroke="#8a8a8a" stroke-width="1"/>
<path d="M14 6.5h4M14 9.5h6M14 12.5h3" stroke="#999" stroke-width="1"/>
<path d="M20.3 9.6h3.5v4h4v3.5h-4v4h-3.5v-4h-4v-3.5h4z" fill="#35e040" stroke="#0f9a1a" stroke-width="0.9"/>
<text x="30.8" y="14.3" font-size="12.2" fill="#000">新订单</text>
<path d="M79.3 12.6L85.3 4.5L95 11.6L94.8 14L87.4 18.8L79.3 14z" fill="#c8901a" stroke="#a87510" stroke-width="0.8"/><path d="M79.3 12.6L85.3 4.5L95 11.6L87.6 16.6z" fill="#f0c23a"/>
<path d="M80 12.8L87.6 16.4L94.6 11.8" fill="none" stroke="#fbe9a0" stroke-width="0.9"/>
<defs><linearGradient id="cl" x1="0" y1="0" x2="0" y2="1"><stop offset="0.3" stop-color="#ffffff"/><stop offset="1" stop-color="#bccbe6"/></linearGradient><linearGradient id="gs" x1="0" y1="0" x2="1" y2="0.6"><stop offset="0" stop-color="#bfe3bf"/><stop offset="1" stop-color="#3da63d"/></linearGradient></defs>
<path d="M109 4.4H112.4V13.5H109z" fill="#169af5"/>
<rect x="112.4" y="4.4" width="7.6" height="9" fill="#3aa6f8"/>
<path d="M109 4.4L110.6 3.1H120L119.2 4.4z" fill="#7cc6ff"/>
<rect x="112.3" y="4.4" width="0.8" height="8.5" fill="#d4ecff"/>
<rect x="114.2" y="7.2" width="4.6" height="1.4" fill="#e6f5ff"/>
<path d="M110.3 18.6a2.9 2.9 0 0 1-0.2-5.7a3 3 0 0 1 5.2-1.2a2.8 2.8 0 0 1 4.2 1.4a2.7 2.7 0 0 1 0.3 5.5z" fill="url(#cl)" stroke="#50679a" stroke-width="0.9"/>
<path d="M142.8 10.7L143 18.7A8 8 0 0 0 149.6 6.3z" fill="url(#gs)" opacity="0.8"/>
<g fill="none"><circle cx="142.8" cy="10.7" r="7.4" stroke="#7c9de0" stroke-width="1.1" opacity="0.85"/><circle cx="142.8" cy="10.7" r="5.1" stroke="#8eace6" stroke-width="1" opacity="0.8"/><circle cx="142.8" cy="10.7" r="3" stroke="#9db9ec" stroke-width="0.9" opacity="0.8"/></g>
<rect x="142.6" y="11" width="1.5" height="7.7" fill="#17a017"/>
<circle cx="142.8" cy="10.5" r="1.9" fill="#1f54cc"/>
<path d="M162.8 9.8L169.6 18.8L173.2 19.2L178 9.4z" fill="#f3d54a" stroke="#d2a21e" stroke-width="0.8"/>
<ellipse cx="170" cy="7.7" rx="8" ry="2.7" fill="#58addb" stroke="#2f8dbd" stroke-width="0.9" transform="rotate(-4 170 7.7)"/>
<path d="M166 7.3a3.9 4.4 0 0 1 7.8-0.5z" fill="#6fc0e8" stroke="#2f8dbd" stroke-width="0.8"/>
<circle cx="174.4" cy="14.6" r="4.35" fill="#e02a10"/>
<rect x="172.9" y="13" width="3.2" height="3.2" fill="#fff"/>
<text x="183" y="14.3" font-size="12.3" fill="#000">自动交易</text>
<rect x="239" y="0" width="1" height="23" fill="#a0a0a0"/><rect x="240" y="0" width="1" height="23" fill="#fafafa"/>
<rect x="242" y="1" width="3" height="1" fill="#a8a8a8"/>
<rect x="242" y="3" width="3" height="1" fill="#a8a8a8"/>
<rect x="242" y="5" width="3" height="1" fill="#a8a8a8"/>
<rect x="242" y="7" width="3" height="1" fill="#a8a8a8"/>
<rect x="242" y="9" width="3" height="1" fill="#a8a8a8"/>
<rect x="242" y="11" width="3" height="1" fill="#a8a8a8"/>
<rect x="242" y="13" width="3" height="1" fill="#a8a8a8"/>
<rect x="242" y="15" width="3" height="1" fill="#a8a8a8"/>
<rect x="242" y="17" width="3" height="1" fill="#a8a8a8"/>
<rect x="242" y="19" width="3" height="1" fill="#a8a8a8"/>
<rect x="256" y="5" width="1" height="15" fill="#585858"/><rect x="253" y="16" width="14" height="1" fill="#585858"/>
<path d="M254.8 6.8L256.5 4.4L258.2 6.8M265.4 14.8L267.4 16.5L265.4 18.2" fill="none" stroke="#585858" stroke-width="0.9"/>
<path d="M259.5 13.5h3v-6h2.5" fill="none" stroke="#2a9a3a" stroke-width="1.3"/>
<rect x="278" y="1" width="23" height="21" fill="#f8f8f8"/>
<rect x="277" y="0" width="1" height="21" fill="#a0a0a0"/>
<rect x="284" y="5" width="1" height="15" fill="#585858"/><rect x="281" y="16" width="14" height="1" fill="#585858"/>
<path d="M282.8 6.8L284.5 4.4L286.2 6.8M293.4 14.8L295.4 16.5L293.4 18.2" fill="none" stroke="#585858" stroke-width="0.9"/>
<path d="M290.5 3.5V15" stroke="#1a8a2a" stroke-width="1.4"/>
<rect x="288.5" y="6" width="4" height="6.5" fill="#3fd84f" stroke="#1a8a2a" stroke-width="1"/>
<rect x="312" y="5" width="1" height="15" fill="#585858"/><rect x="309" y="16" width="14" height="1" fill="#585858"/>
<path d="M310.8 6.8L312.5 4.4L314.2 6.8M321.4 14.8L323.4 16.5L321.4 18.2" fill="none" stroke="#585858" stroke-width="0.9"/>
<path d="M311.5 13.5c3-6 6-7 8-5l3 3" fill="none" stroke="#2a9a3a" stroke-width="1.4"/>
<rect x="333" y="1" width="1" height="21" fill="#a0a0a0"/><rect x="334" y="1" width="1" height="21" fill="#fafafa"/>
<path d="M351.9 13.2L357.09999999999997 18.2" stroke="#b8860b" stroke-width="3.6" stroke-linecap="butt"/>
<path d="M351.9 13.2L356.9 18" stroke="#ecd02a" stroke-width="2.2" stroke-linecap="butt"/>
<circle cx="347.9" cy="9" r="5.5" fill="#d6f0fc" stroke="#2a78c8" stroke-width="1.2"/>
<path d="M344.59999999999997 9h6.6" stroke="#3f8fb8" stroke-width="1.9"/>
<path d="M347.9 5.7v6.6" stroke="#3f8fb8" stroke-width="1.9"/>
<path d="M380 13.2L385.2 18.2" stroke="#b8860b" stroke-width="3.6" stroke-linecap="butt"/>
<path d="M380 13.2L385 18" stroke="#ecd02a" stroke-width="2.2" stroke-linecap="butt"/>
<circle cx="376" cy="9" r="5.5" fill="#d6f0fc" stroke="#2a78c8" stroke-width="1.2"/>
<path d="M372.7 9h6.6" stroke="#3f8fb8" stroke-width="1.9"/>
<rect x="398" y="3" width="8" height="8" fill="#3c9c1a"/>
<rect x="398" y="3" width="8" height="1.6" fill="#2f8412"/>
<rect x="399" y="4" width="1" height="1" fill="#e8f0ff" opacity="0.8"/>
<path d="M399.4 10V7.4q0-1 1-1h3.2q1 0 1 1V10z" fill="#fff"/>
<rect x="400.4" y="7.5" width="3.2" height="0.9" fill="#a8dc90"/>
<rect x="406" y="3" width="8" height="8" fill="#1c4ccc"/>
<rect x="406" y="3" width="8" height="1.6" fill="#1238a8"/>
<rect x="407" y="4" width="1" height="1" fill="#e8f0ff" opacity="0.8"/>
<path d="M407.4 10V7.4q0-1 1-1h3.2q1 0 1 1V10z" fill="#fff"/>
<rect x="408.4" y="7.5" width="3.2" height="0.9" fill="#9ab4f0"/>
<rect x="398" y="11" width="8" height="8" fill="#1c4ccc"/>
<rect x="398" y="11" width="8" height="1.6" fill="#1238a8"/>
<rect x="399" y="12" width="1" height="1" fill="#e8f0ff" opacity="0.8"/>
<path d="M399.4 18V15.4q0-1 1-1h3.2q1 0 1 1V18z" fill="#fff"/>
<rect x="400.4" y="15.5" width="3.2" height="0.9" fill="#9ab4f0"/>
<rect x="406" y="11" width="8" height="8" fill="#3c9c1a"/>
<rect x="406" y="11" width="8" height="1.6" fill="#2f8412"/>
<rect x="407" y="12" width="1" height="1" fill="#e8f0ff" opacity="0.8"/>
<path d="M407.4 18V15.4q0-1 1-1h3.2q1 0 1 1V18z" fill="#fff"/>
<rect x="408.4" y="15.5" width="3.2" height="0.9" fill="#a8dc90"/>
<rect x="423" y="1" width="1" height="21" fill="#a0a0a0"/><rect x="424" y="1" width="1" height="21" fill="#fafafa"/>
<rect x="429" y="1" width="25" height="21" fill="#f8f8f8"/>
<rect x="428" y="0" width="1" height="21" fill="#a0a0a0"/>
<rect x="436" y="5" width="1" height="15" fill="#585858"/><rect x="433" y="16" width="14" height="1" fill="#585858"/>
<path d="M434.8 6.8L436.5 4.4L438.2 6.8M445.4 14.8L447.4 16.5L445.4 18.2" fill="none" stroke="#585858" stroke-width="0.9"/>
<path d="M441.5 7.5v6.5l4-3.2z" fill="#7be07b" stroke="#1f9a2f" stroke-width="1"/>
<rect x="457" y="1" width="25" height="21" fill="#f8f8f8"/>
<rect x="456" y="0" width="1" height="21" fill="#a0a0a0"/>
<rect x="464" y="5" width="1" height="15" fill="#585858"/><rect x="461" y="16" width="14" height="1" fill="#585858"/>
<path d="M462.8 6.8L464.5 4.4L466.2 6.8M473.4 14.8L475.4 16.5L473.4 18.2" fill="none" stroke="#585858" stroke-width="0.9"/>
<path d="M470.5 5V15" stroke="#2a6fb5" stroke-width="1.4"/>
<path d="M472 10.5h4.5M474.6 8l-2.6 2.5l2.6 2.5" fill="none" stroke="#d8501a" stroke-width="1.3"/>
<rect x="485" y="1" width="1" height="21" fill="#a0a0a0"/><rect x="486" y="1" width="1" height="21" fill="#fafafa"/>
<path d="M495.5 3.5h7.5l3.5 3.5v9.5h-11z" fill="#fff" stroke="#8a8a8a" stroke-width="1"/>
<path d="M503 3.5v3.5h3.5" fill="#e8e8e8" stroke="#8a8a8a" stroke-width="0.9"/>
<path d="M500.2 6.4c-1.3-0.3-1.7 0.6-1.7 2v5.5M497.4 9.5h2.4" fill="none" stroke="#5a5a48" stroke-width="1"/>
<path d="M503.3 9.3h3.5v4h4v3.5h-4v4h-3.5v-4h-4v-3.5h4z" fill="#35e040" stroke="#0f9a1a" stroke-width="0.9"/>
<path d="M516.7 10h6l-3 3.2z" fill="#000"/>
<defs><linearGradient id="ckr" x1="0.2" y1="0" x2="0.8" y2="1"><stop offset="0" stop-color="#4a9cf0"/><stop offset="0.5" stop-color="#1560c8"/><stop offset="1" stop-color="#0a48a8"/></linearGradient></defs>
<circle cx="540.9" cy="11" r="6.9" fill="#f8fbff" stroke="url(#ckr)" stroke-width="2.4"/>
<circle cx="540.9" cy="11" r="4.6" fill="none" stroke="#9aa4b0" stroke-width="0.9" stroke-dasharray="0.7 1.71"/>
<path d="M540.9 7.3V11.2h3.3" fill="none" stroke="#2a2a2a" stroke-width="1.3"/>
<path d="M555.8 10h6l-3 3.2z" fill="#000"/>
<rect x="573.2" y="5.3" width="15.4" height="13" fill="#c8c8c8" opacity="0.6"/>
<rect x="572.5" y="4.5" width="15" height="13" fill="#fafcff" stroke="#3a78d0" stroke-width="1"/>
<rect x="572.5" y="4.5" width="15" height="2.4" fill="#4a88dc"/>
<path d="M574.2 10.4h1.6l1.6-1.2h1.8l1.2 0.9h2l1.4-1.2h1.6" fill="none" stroke="#a62a08" stroke-width="1.4"/>
<path d="M573 12h14" stroke="#3a78d0" stroke-width="1"/>
<path d="M574.4 15.4h1.6l1.5-1h1.4l1.5 0.9l2.3-2l1.6 1.8h1" fill="none" stroke="#1f9a2f" stroke-width="1.3"/>
<path d="M594.8 10h6l-3 3.2z" fill="#000"/>
<rect x="606" y="0" width="1" height="23" fill="#a0a0a0"/><rect x="607" y="0" width="1" height="23" fill="#fafafa"/>
<rect x="610" y="1" width="3" height="1" fill="#a8a8a8"/>
<rect x="610" y="3" width="3" height="1" fill="#a8a8a8"/>
<rect x="610" y="5" width="3" height="1" fill="#a8a8a8"/>
<rect x="610" y="7" width="3" height="1" fill="#a8a8a8"/>
<rect x="610" y="9" width="3" height="1" fill="#a8a8a8"/>
<rect x="610" y="11" width="3" height="1" fill="#a8a8a8"/>
<rect x="610" y="13" width="3" height="1" fill="#a8a8a8"/>
<rect x="610" y="15" width="3" height="1" fill="#a8a8a8"/>
<rect x="610" y="17" width="3" height="1" fill="#a8a8a8"/>
<rect x="610" y="19" width="3" height="1" fill="#a8a8a8"/>
<rect x="617" y="1" width="25" height="21" fill="#f8f8f8"/>
<rect x="616" y="0" width="1" height="21" fill="#a0a0a0"/>
<path d="M624.5 4.5V15l2.6-2.2l2.2 5l1.8-0.8l-2.2-4.8h3.5z" fill="#555" stroke="#555" stroke-width="0.6"/>
<path d="M656.5 4V9.5M656.5 13V19M649 11.5H655M658 11.5H664" stroke="#585858" stroke-width="1.2"/>
<rect x="656" y="11" width="1" height="1" fill="#585858"/>
<rect x="673" y="1" width="1" height="21" fill="#a0a0a0"/><rect x="674" y="1" width="1" height="21" fill="#fafafa"/>
<path d="M690.5 5V18" stroke="#585858" stroke-width="1.3"/>
<path d="M713 11.5H725" stroke="#585858" stroke-width="1.3"/>
<path d="M741 18L753 6" stroke="#585858" stroke-width="1.3"/>
<path d="M767 13L780 4M768 18L781 9" stroke="#585858" stroke-width="1.2"/>
<path d="M771 8.5l-1.5 8M775 6l-1.5 8M779 3.5l-1.5 8" stroke="#585858" stroke-width="1"/>
<text x="777.5" y="20" font-size="7" font-weight="bold" fill="#585858">E</text>
<path d="M796 4.5H809" stroke="#585858" stroke-width="1" stroke-dasharray="1 1" shape-rendering="crispEdges"/>
<path d="M796 7.5H809" stroke="#585858" stroke-width="1" stroke-dasharray="1 1" shape-rendering="crispEdges"/>
<path d="M796 11.5H809" stroke="#585858" stroke-width="1" stroke-dasharray="1 1" shape-rendering="crispEdges"/>
<path d="M796 15.5H809" stroke="#585858" stroke-width="1" stroke-dasharray="1 1" shape-rendering="crispEdges"/>
<text x="805.5" y="20" font-size="7" font-weight="bold" fill="#585858">F</text>
<text x="826.3" y="16" font-size="12.6" fill="#585858" stroke="#585858" stroke-width="0.35">A</text>
<rect x="852.5" y="4.5" width="12" height="13" fill="none" stroke="#585858" stroke-width="1" stroke-dasharray="1 1" shape-rendering="crispEdges"/>
<path d="M855.5 7.5h7M859 7.5v8" stroke="#585858" stroke-width="1.6"/>
<path d="M879.8 9l3.4-4.2l3.4 4.2zM887.6 15.2l3.4 3.4l3.4-3.4l-3.4-3.4z" fill="#585858"/>
<path d="M882.5 11l2.3 3l4.5-6" fill="none" stroke="#585858" stroke-width="1.5"/>
<path d="M901 10h6l-3 3.2z" fill="#000"/>
<rect x="912" y="0" width="1" height="23" fill="#a0a0a0"/><rect x="913" y="0" width="1" height="23" fill="#fafafa"/>
<rect x="916" y="1" width="3" height="1" fill="#a8a8a8"/>
<rect x="916" y="3" width="3" height="1" fill="#a8a8a8"/>
<rect x="916" y="5" width="3" height="1" fill="#a8a8a8"/>
<rect x="916" y="7" width="3" height="1" fill="#a8a8a8"/>
<rect x="916" y="9" width="3" height="1" fill="#a8a8a8"/>
<rect x="916" y="11" width="3" height="1" fill="#a8a8a8"/>
<rect x="916" y="13" width="3" height="1" fill="#a8a8a8"/>
<rect x="916" y="15" width="3" height="1" fill="#a8a8a8"/>
<rect x="916" y="17" width="3" height="1" fill="#a8a8a8"/>
<rect x="916" y="19" width="3" height="1" fill="#a8a8a8"/>
<rect x="1063" y="1" width="25" height="21" fill="#f8f8f8"/>
<rect x="1062" y="0" width="1" height="21" fill="#a0a0a0"/>
<text transform="translate(934 15) rotate(0.05) scale(0.925 1)" font-size="10" text-anchor="middle" fill="#3c3c3c" stroke="#3c3c3c" stroke-width="0.2">M1</text>
<text transform="translate(962 15) rotate(0.05) scale(0.925 1)" font-size="10" text-anchor="middle" fill="#3c3c3c" stroke="#3c3c3c" stroke-width="0.2">M5</text>
<text transform="translate(990.5 15) rotate(0.05) scale(0.925 1)" font-size="10" text-anchor="middle" fill="#3c3c3c" stroke="#3c3c3c" stroke-width="0.2">M15</text>
<text transform="translate(1018.5 15) rotate(0.05) scale(0.925 1)" font-size="10" text-anchor="middle" fill="#3c3c3c" stroke="#3c3c3c" stroke-width="0.2">M30</text>
<text transform="translate(1046.5 15) rotate(0.05) scale(0.925 1)" font-size="10" text-anchor="middle" fill="#3c3c3c" stroke="#3c3c3c" stroke-width="0.2">H1</text>
<text transform="translate(1074 15) rotate(0.05) scale(0.925 1)" font-size="10" text-anchor="middle" fill="#3c3c3c" stroke="#3c3c3c" stroke-width="0.2">H4</text>
<text transform="translate(1102.5 15) rotate(0.05) scale(0.925 1)" font-size="10" text-anchor="middle" fill="#3c3c3c" stroke="#3c3c3c" stroke-width="0.2">D1</text>
<text transform="translate(1131.2 15) rotate(0.05) scale(0.925 1)" font-size="10" text-anchor="middle" fill="#3c3c3c" stroke="#3c3c3c" stroke-width="0.2">W1</text>
<text transform="translate(1158.2 15) rotate(0.05) scale(0.925 1)" font-size="10" text-anchor="middle" fill="#3c3c3c" stroke="#3c3c3c" stroke-width="0.2">MN</text>
<rect x="1173" y="0" width="1" height="23" fill="#a0a0a0"/><rect x="1174" y="0" width="1" height="23" fill="#fafafa"/>
<path d="M1640.3 11.7L1636 16" stroke="#1e4fc4" stroke-width="2.2" stroke-linecap="round"/>
<circle cx="1643.5" cy="8.5" r="4" fill="#f6f6ff" stroke="#2557c9" stroke-width="1.4"/>
<path d="M1661 13.5a4.5 4 0 0 1 4.5-4.5h5a4.5 4 0 0 1 0 8.5h-5l-2.5 2.2v-2.6a4 4 0 0 1-2-3.6z" fill="#dfe1ea" stroke="#b9bcc6" stroke-width="1"/>
<defs><linearGradient id="bg1" x1="0" y1="0" x2="0" y2="1"><stop offset="0" stop-color="#ea5a3c"/><stop offset="1" stop-color="#d7220e"/></linearGradient><radialGradient id="ck" cx="0.4" cy="0.35" r="0.7"><stop offset="0" stop-color="#ffffff"/><stop offset="1" stop-color="#cfe3f7"/></radialGradient></defs>
<circle cx="1674.6" cy="8.4" r="8.3" fill="url(#bg1)"/>
<text x="1674.6" y="13" font-size="12.5" text-anchor="middle" fill="#fff" stroke="#fff" stroke-width="0.5">1</text>
</svg>
</body></html>
